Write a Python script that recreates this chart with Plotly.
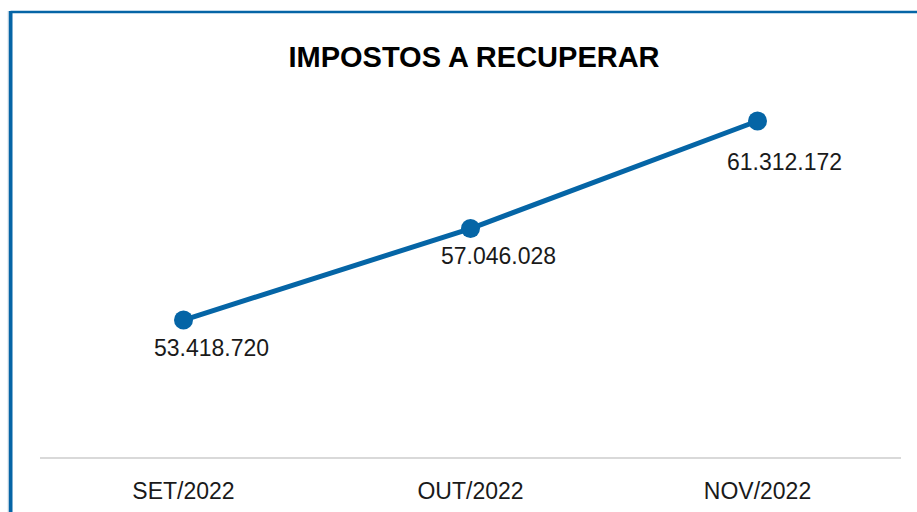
import plotly.graph_objects as go

categories = ["SET/2022", "OUT/2022", "NOV/2022"]
values = [53418720, 57046028, 61312172]
title_text = "IMPOSTOS A RECUPERAR"

# label offsets (px) relative to each point
label_dx = [28, 28, 27]
label_dy = [-28, -27, -41]

BLUE = "#0565A6"
W, H = 917, 512
ML, MR, MT, MB = 40, 16, 90, 55

fig = go.Figure()
fig.add_trace(go.Scatter(
    x=categories, y=values, mode="lines+markers",
    line=dict(color=BLUE, width=5),
    marker=dict(color=BLUE, size=19),
    hoverinfo="skip", showlegend=False,
))

for c, v, dx, dy in zip(categories, values, label_dx, label_dy):
    fig.add_annotation(
        x=c, y=v, xref="x", yref="y", text=f"{v:,}".replace(",", "."),
        showarrow=False, xshift=dx, yshift=dy,
        font=dict(family="Liberation Sans", size=23, color="#1a1a1a"),
    )

pw = W - ML - MR
ph = H - MT - MB
def px(p):
    return (p - ML) / pw
def py(p):
    return (H - MB - p) / ph

# frame border (blue left and top edges)
fig.add_shape(type="line", xref="paper", yref="paper",
              x0=px(10.5), x1=px(917), y0=py(12), y1=py(12),
              line=dict(color=BLUE, width=2.5))
fig.add_shape(type="line", xref="paper", yref="paper",
              x0=px(10.5), x1=px(10.5), y0=py(11), y1=py(512),
              line=dict(color=BLUE, width=4))
fig.add_shape(type="line", xref="paper", yref="paper",
              x0=px(8), x1=px(8), y0=py(11), y1=py(512),
              line=dict(color="#DCE3EA", width=1))

fig.update_layout(
    width=W, height=H,
    margin=dict(l=ML, r=MR, t=MT, b=MB, autoexpand=False),
    paper_bgcolor="white", plot_bgcolor="white",
    title=dict(text=f"<b>{title_text}</b>", x=474 / W, xanchor="center",
               y=1 - 57 / H, yanchor="middle",
               font=dict(family="Liberation Sans", size=29, color="black")),
    xaxis=dict(showgrid=False, zeroline=False, showline=True,
               range=[-0.5, 2.5], automargin=False,
               linecolor="#D9D9D9", linewidth=2,
               ticks="outside", ticklen=12, tickcolor="rgba(0,0,0,0)",
               tickfont=dict(family="Liberation Sans", size=23, color="#1a1a1a"),
               fixedrange=True),
    yaxis=dict(visible=False, range=[47.99e6, 62.54e6], fixedrange=True),
)

fig.write_html(
    "out.html",
    config={"displayModeBar": False},
    post_script="document.body.style.margin='0';document.body.style.overflow='hidden';",
)
